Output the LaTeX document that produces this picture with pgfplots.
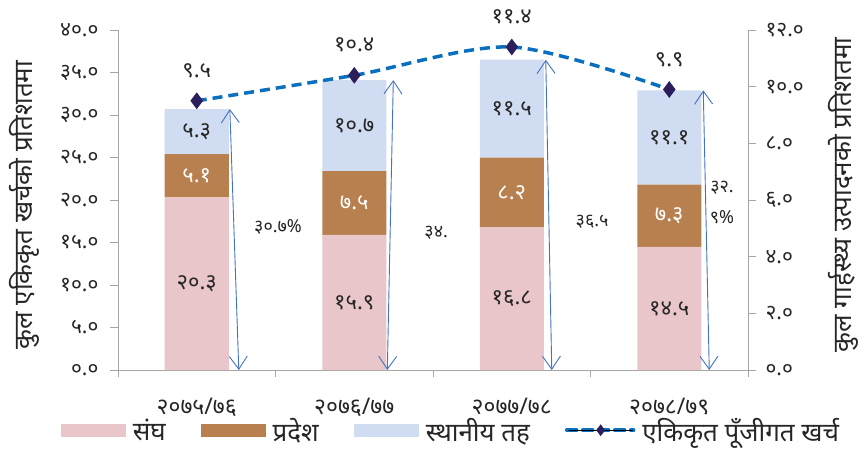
\documentclass[border=0pt]{standalone}
\usepackage{fontspec}
\setmainfont[Script=Devanagari]{Noto Sans}
\usepackage{pgfplots}
\pgfplotsset{compat=1.18}
\usetikzlibrary{arrows.meta}
\definecolor{cPink}{HTML}{E9C6C9}
\definecolor{cBrown}{HTML}{B8804F}
\definecolor{cBlue}{HTML}{D0DCF1}
\definecolor{cLine}{HTML}{0A6FBF}
\definecolor{cMark}{HTML}{2A1E5C}
\definecolor{cArrow}{HTML}{4472C4}
\definecolor{cAxis}{HTML}{A6A6A6}
\definecolor{cText}{HTML}{262626}
\newcommand{\ytickfont}{\fontsize{21}{24}\selectfont}
\newcommand{\xtickfont}{\fontsize{23}{26}\selectfont}
\newcommand{\labfont}{\fontsize{22}{25}\selectfont}
\newcommand{\pctfont}{\fontsize{18}{21}\selectfont}
\newcommand{\titfont}{\fontsize{26}{29}\selectfont}
\tikzset{dblarrow/.style={cArrow, line width=0.9bp, {Straight Barb[length=13bp,width=18bp]}-{Straight Barb[length=13bp,width=18bp]}}}
\pgfplotsset{common/.style={scale only axis, width=630bp, height=340bp, xmin=-0.5, xmax=3.5}}
\begin{document}
\begin{tikzpicture}
\useasboundingbox (-118bp,-81bp) rectangle (746bp,370bp);
% ---------- bars ----------
\begin{axis}[
  common, ymin=0, ymax=40,
  ybar stacked, bar width=64bp,
  axis x line*=bottom, axis y line*=left,
  axis line style={cAxis, line width=0.8bp},
  tick style={cAxis, line width=0.8bp},
  tick align=outside, major tick length=8bp, minor tick length=7bp,
  ytick={0,5,...,40},
  yticklabels={०.०,५.०,१०.०,१५.०,२०.०,२५.०,३०.०,३५.०,४०.०},
  xtick={0,1,2,3},
  xticklabels={२०७५/७६,२०७६/७७,२०७७/७८,२०७८/७९},
  minor xtick={-0.5,0.5,1.5,2.5,3.5},
  major x tick style={draw=none},
  yticklabel style={font=\ytickfont, text=cText, xshift=-8bp},
  xticklabel style={font=\xtickfont, text=cText, yshift=-17bp},
  ylabel={कुल एकिकृत खर्चको प्रतिशतमा},
  ylabel style={at={(axis description cs:-0.148,0.485)}, anchor=center, font=\titfont, text=cText},
  legend style={at={(axis description cs:-0.091,-0.177)}, anchor=west, draw=none, fill=none,
    font=\titfont, text=cText, legend columns=4, inner sep=0pt,
    /tikz/every even column/.append style={column sep=33bp},
    /tikz/every odd column/.append style={column sep=5bp}},
  clip=false,
]
\addplot[fill=cPink, draw=none, legend image code/.code={\fill[cPink] (0bp,-6.5bp) rectangle (65bp,6.5bp);}]
  coordinates {(0,20.3) (1,15.9) (2,16.8) (3,14.5)};
\addlegendentry{संघ}
\addplot[fill=cBrown, draw=none, legend image code/.code={\fill[cBrown] (0bp,-6.5bp) rectangle (65bp,6.5bp);}]
  coordinates {(0,5.1) (1,7.5) (2,8.2) (3,7.3)};
\addlegendentry{प्रदेश}
\addplot[fill=cBlue, draw=none, legend image code/.code={\fill[cBlue] (0bp,-6.5bp) rectangle (65bp,6.5bp);}]
  coordinates {(0,5.3) (1,10.7) (2,11.5) (3,11.1)};
\addlegendentry{स्थानीय तह}
\addlegendimage{legend image code/.code={
  \draw[cLine, line width=3.5bp, dash pattern=on 10bp off 6bp, line cap=round] (0bp,0bp) -- (67bp,0bp);
  \path[mark=diamond*, mark size=5.5bp, mark options={solid, fill=cMark, draw=cMark}] plot coordinates {(34bp,0bp)};
}}
\addlegendentry{एकिकृत पूँजीगत खर्च}
\end{axis}
% ---------- annotations (same scale as bars) ----------
\begin{axis}[common, ymin=0, ymax=40, hide axis, clip=false]
\node[font=\labfont, text=cText] at (axis cs:0,10.15) {२०.३};
\node[font=\labfont, text=white] at (axis cs:0,22.85) {५.१};
\node[font=\labfont, text=cText] at (axis cs:0,28.05) {५.३};
\node[font=\labfont, text=cText] at (axis cs:1,7.95) {१५.९};
\node[font=\labfont, text=white] at (axis cs:1,19.65) {७.५};
\node[font=\labfont, text=cText] at (axis cs:1,28.75) {१०.७};
\node[font=\labfont, text=cText] at (axis cs:2,8.4) {१६.८};
\node[font=\labfont, text=white] at (axis cs:2,20.9) {८.२};
\node[font=\labfont, text=cText] at (axis cs:2,30.75) {११.५};
\node[font=\labfont, text=cText] at (axis cs:3,7.25) {१४.५};
\node[font=\labfont, text=white] at (axis cs:3,18.15) {७.३};
\node[font=\labfont, text=cText] at (axis cs:3,27.35) {११.१};
\draw[dblarrow] (axis cs:0.267,0) -- (axis cs:0.21,30.7);
\draw[dblarrow] (axis cs:1.21,0) -- (axis cs:1.248,34.1);
\draw[dblarrow] (axis cs:2.254,0) -- (axis cs:2.216,36.5);
\draw[dblarrow] (axis cs:3.254,0) -- (axis cs:3.216,32.9);
\node[font=\pctfont, text=cText] at (axis cs:0.516,16.8) {३०.७\%};
\node[font=\pctfont, text=cText] at (axis cs:1.52,16.1) {३४.};
\node[font=\pctfont, text=cText] at (axis cs:2.51,17.4) {३६.५};
\node[font=\pctfont, text=cText] at (axis cs:3.335,21.5) {३२.};
\node[font=\pctfont, text=cText] at (axis cs:3.335,18.0) {९\%};
\end{axis}
% ---------- line on secondary axis ----------
\begin{axis}[
  common, ymin=0, ymax=12,
  axis x line=none, axis y line*=right,
  axis line style={cAxis, line width=0.8bp},
  tick style={cAxis, line width=0.8bp},
  tick align=outside, major tick length=8bp,
  ytick={0,2,...,12},
  yticklabels={०.०,२.०,४.०,६.०,८.०,१०.०,१२.०},
  yticklabel style={font=\ytickfont, text=cText, xshift=6bp},
  ylabel={कुल गार्हस्थ्य उत्पादनको प्रतिशतमा},
  ylabel style={at={(axis description cs:1.151,0.515)}, anchor=center, font=\titfont, text=cText},
  clip=false,
]
\addplot[cLine, line width=3.5bp, dash pattern=on 10bp off 6bp, smooth,
  mark=diamond*, mark size=5.5bp, mark options={solid, fill=cMark, draw=cMark},
  nodes near coords, point meta=explicit symbolic,
  every node near coord/.append style={text=cText, anchor=center, yshift=30bp, font=\labfont}]
  coordinates {(0,9.5)[९.५] (1,10.4)[१०.४] (2,11.4)[११.४] (3,9.9)[९.९]};
\end{axis}
\end{tikzpicture}
\end{document}
